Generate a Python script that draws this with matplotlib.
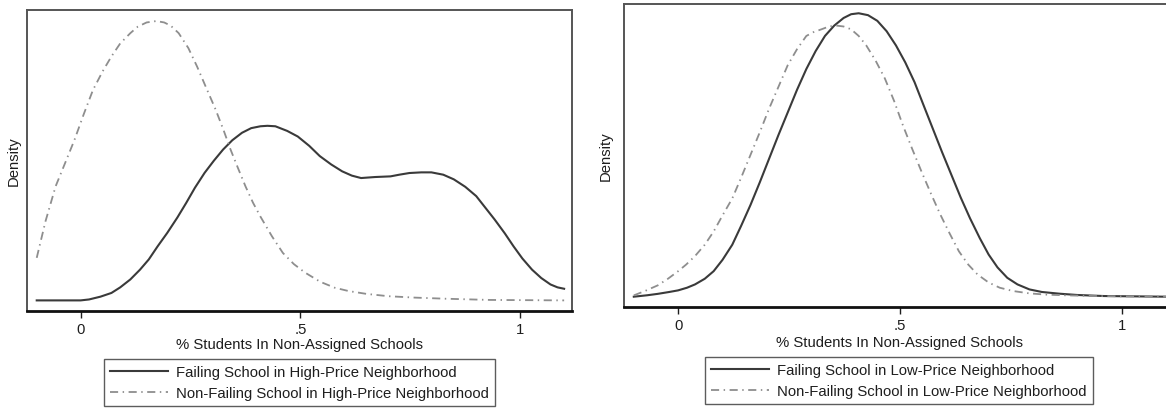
import matplotlib
matplotlib.use("Agg")
import matplotlib.pyplot as plt

plt.rcParams['font.family'] = ['Liberation Sans', 'DejaVu Sans']

# left panel: high-price neighborhood
hi_fail_x = [-0.10, 0.0, 0.019, 0.045, 0.07, 0.09, 0.113, 0.135, 0.155, 0.175, 0.197, 0.22,
             0.24, 0.26, 0.282, 0.303, 0.324, 0.345, 0.367, 0.388, 0.409, 0.425, 0.443,
             0.47, 0.494, 0.52, 0.544, 0.57, 0.595, 0.617, 0.638, 0.67, 0.705, 0.725,
             0.748, 0.775, 0.798, 0.825, 0.849, 0.875, 0.90, 0.92, 0.942, 0.965, 0.985,
             1.005, 1.027, 1.048, 1.069, 1.085, 1.10]
hi_fail_d = [0.0, 0.0, 0.01, 0.04, 0.08, 0.14, 0.225, 0.33, 0.44, 0.58, 0.725, 0.89,
             1.046, 1.21, 1.37, 1.50, 1.62, 1.72, 1.80, 1.85, 1.87, 1.875, 1.87,
             1.82, 1.76, 1.66, 1.55, 1.46, 1.386, 1.34, 1.314, 1.325, 1.332, 1.35,
             1.368, 1.375, 1.375, 1.35, 1.30, 1.22, 1.12, 1.00, 0.868, 0.72, 0.58,
             0.45, 0.33, 0.24, 0.171, 0.14, 0.125]
hi_nonfail_x = [-0.10, -0.08, -0.057, -0.035, -0.014, 0.007, 0.028, 0.05, 0.07, 0.09, 0.113,
                0.13, 0.15, 0.172, 0.19, 0.205, 0.223, 0.245, 0.265, 0.285, 0.307, 0.325,
                0.341, 0.358, 0.375, 0.392, 0.409, 0.435, 0.46, 0.485, 0.51, 0.545, 0.578,
                0.61, 0.65, 0.70, 0.76, 0.83, 0.93, 1.10]
hi_nonfail_d = [0.457, 0.85, 1.225, 1.48, 1.725, 2.0, 2.26, 2.46, 2.62, 2.76, 2.87,
                2.94, 2.985, 3.0, 2.985, 2.95, 2.87, 2.71, 2.51, 2.29, 2.05, 1.83,
                1.62, 1.42, 1.225, 1.05, 0.90, 0.69, 0.51, 0.39, 0.30, 0.20, 0.136,
                0.10, 0.07, 0.045, 0.03, 0.018, 0.005, 0.0]

# right panel: low-price neighborhood
lo_fail_x = [-0.10, -0.07, -0.046, -0.02, 0.0, 0.02, 0.038, 0.06, 0.08, 0.10, 0.122, 0.142,
             0.163, 0.184, 0.205, 0.226, 0.247, 0.268, 0.289, 0.31, 0.331, 0.352, 0.373,
             0.39, 0.407, 0.428, 0.449, 0.47, 0.491, 0.512, 0.533, 0.553, 0.574, 0.595,
             0.616, 0.637, 0.658, 0.68, 0.70, 0.72, 0.742, 0.765, 0.792, 0.82, 0.859,
             0.90, 0.96, 1.10]
lo_fail_d = [0.0, 0.015, 0.03, 0.05, 0.067, 0.095, 0.13, 0.19, 0.27, 0.39, 0.55, 0.75,
             0.97, 1.21, 1.46, 1.71, 1.95, 2.19, 2.41, 2.60, 2.76, 2.87, 2.95,
             2.99, 3.0, 2.98, 2.92, 2.81, 2.66, 2.48, 2.27, 2.03, 1.78, 1.53,
             1.29, 1.05, 0.83, 0.62, 0.446, 0.31, 0.2, 0.13, 0.077, 0.05, 0.032,
             0.018, 0.007, 0.0]
lo_nonfail_x = [-0.10, -0.075, -0.046, -0.023, 0.0, 0.018, 0.038, 0.06, 0.08, 0.10, 0.122,
                0.142, 0.163, 0.184, 0.205, 0.226, 0.247, 0.268, 0.289, 0.305, 0.323, 0.34,
                0.356, 0.373, 0.39, 0.407, 0.424, 0.445, 0.466, 0.487, 0.507, 0.528, 0.549,
                0.57, 0.591, 0.612, 0.633, 0.654, 0.675, 0.70, 0.725, 0.755, 0.792, 0.83,
                0.876, 0.95, 1.10]
lo_nonfail_d = [0.014, 0.06, 0.12, 0.19, 0.27, 0.34, 0.43, 0.55, 0.69, 0.86, 1.04,
                1.26, 1.50, 1.74, 1.99, 2.22, 2.45, 2.62, 2.76, 2.80, 2.83, 2.86,
                2.87, 2.86, 2.83, 2.76, 2.66, 2.50, 2.31, 2.07, 1.81, 1.56, 1.32,
                1.09, 0.87, 0.67, 0.48, 0.34, 0.235, 0.15, 0.095, 0.06, 0.035, 0.022,
                0.014, 0.006, 0.0]

xticks = [0, 0.5, 1]
xtick_labels = ['0', '.5', '1']
xlabel = '% Students In Non-Assigned Schools'
ylabel = 'Density'

SOLID = '#3a3a3a'
GREY = '#8e8e8e'
DASHES = (4.5, 2.5, 0.8, 2.5)
FS = 10.7

fig = plt.figure(figsize=(11.66, 4.10), dpi=100)
ax1 = fig.add_axes([0.0232, 0.239, 0.4674, 0.734])
ax2 = fig.add_axes([0.5352, 0.2488, 0.4717, 0.739])


def style_panel(ax, ylim, ylab_x, xlab_y, leg_y, labels, fail, nonfail):
    l1, = ax.plot(fail[0], fail[1], color=SOLID, lw=1.5)
    l2, = ax.plot(nonfail[0], nonfail[1], color=GREY, lw=1.3, dashes=DASHES)
    ax.set_xlim(-0.122, 1.118)
    ax.set_ylim(*ylim)
    ax.set_xticks(xticks)
    ax.set_xticklabels(xtick_labels)
    ax.set_yticks([])
    ax.tick_params(axis='x', length=5, width=1, pad=3, labelsize=FS, colors='#1e1e1e')
    for side in ['top', 'left', 'right']:
        ax.spines[side].set_color('#555555')
        ax.spines[side].set_linewidth(1.4)
    ax.spines['bottom'].set_color('#111111')
    ax.spines['bottom'].set_linewidth(2.0)
    ax.set_xlabel(xlabel, fontsize=FS, color='#1e1e1e')
    ax.xaxis.set_label_coords(0.5, xlab_y)
    ax.xaxis.label.set_va('center')
    ax.set_ylabel(ylabel, fontsize=FS, color='#1e1e1e')
    ax.yaxis.set_label_coords(ylab_x, 0.5)
    ax.yaxis.label.set_va('center')
    leg = ax.legend([l1, l2], labels, loc='upper center', bbox_to_anchor=(0.5, leg_y),
                    frameon=True, fancybox=False, fontsize=FS, handlelength=3.9,
                    handletextpad=0.55, borderpad=0.4, labelspacing=0.5, borderaxespad=0)
    leg.get_frame().set_edgecolor('#333333')
    leg.get_frame().set_linewidth(1.0)
    for t in leg.get_texts():
        t.set_color('#1e1e1e')


style_panel(ax1, (-0.114, 3.118), -0.024, -0.11, -0.159,
            ['Failing School in High-Price Neighborhood',
             'Non-Failing School in High-Price Neighborhood'],
            (hi_fail_x, hi_fail_d), (hi_nonfail_x, hi_nonfail_d))
style_panel(ax2, (-0.109, 3.098), -0.033, -0.115, -0.165,
            ['Failing School in Low-Price Neighborhood',
             'Non-Failing School in Low-Price Neighborhood'],
            (lo_fail_x, lo_fail_d), (lo_nonfail_x, lo_nonfail_d))

fig.savefig('out.png', dpi=100)
